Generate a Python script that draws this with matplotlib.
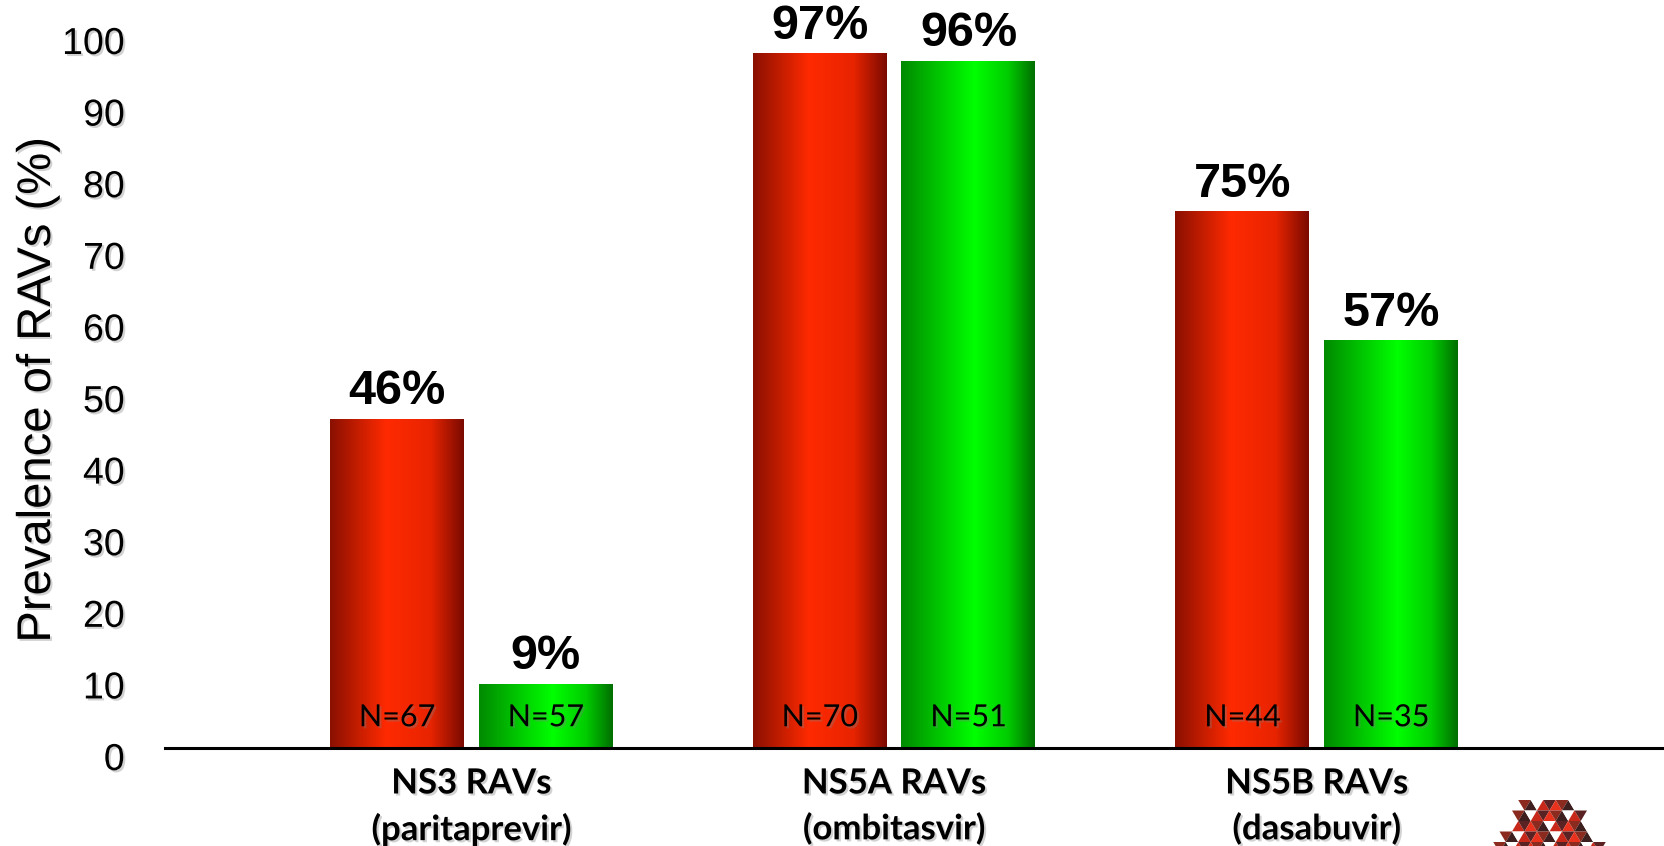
import matplotlib
matplotlib.use("Agg")
import matplotlib.pyplot as plt
import matplotlib.patheffects as pe
import matplotlib.transforms as mtransforms
from matplotlib.colors import LinearSegmentedColormap
from matplotlib.patches import Polygon
import numpy as np

# Data
categories = ["NS3 RAVs\n(paritaprevir)", "NS5A RAVs\n(ombitasvir)", "NS5B RAVs\n(dasabuvir)"]
group_a = [46, 97, 75]          # red bars
group_b = [9, 96, 57]           # green bars
n_a = [67, 70, 44]
n_b = [57, 51, 35]
yticks = list(range(0, 101, 10))

red_cmap = LinearSegmentedColormap.from_list(
    "red_cyl", [(0.0, "#8a1000"), (0.42, "#ff2a00"), (0.75, "#e82400"), (1.0, "#7a0a00")])
green_cmap = LinearSegmentedColormap.from_list(
    "green_cyl", [(0.0, "#008a00"), (0.55, "#00ff00"), (0.8, "#00cc00"), (1.0, "#006e00")])

shadow = [pe.SimplePatchShadow(offset=(1.5, -1.5), shadow_rgbFace="gray", alpha=0.35), pe.Normal()]

fig = plt.figure(figsize=(16.65, 8.46), dpi=100, facecolor="white")
ax = fig.add_axes([0.0991, 0.1158, 0.9009, 0.8464])

x = np.arange(len(categories))
width = 0.317
offset = 0.176

bars_a = ax.bar(x - offset, group_a, width, color="#ff2a00", zorder=2)
bars_b = ax.bar(x + offset, group_b, width, color="#00ff00", zorder=2)

# horizontal gradient fill clipped to each bar
grad = np.linspace(0, 1, 256).reshape(1, -1)
for bars, cmap in ((bars_a, red_cmap), (bars_b, green_cmap)):
    for b in bars:
        x0, y0 = b.get_x(), b.get_y()
        im = ax.imshow(grad, cmap=cmap, aspect="auto", zorder=3,
                       extent=[x0, x0 + b.get_width(), y0, y0 + b.get_height()])
        im.set_clip_path(b)

# value and sample size labels
for bars, vals, ns in ((bars_a, group_a, n_a), (bars_b, group_b, n_b)):
    for b, v, n in zip(bars, vals, ns):
        cx = b.get_x() + b.get_width() / 2
        ax.annotate(f"{v}%", (cx, v), xytext=(0, 3), textcoords="offset points",
                    ha="center", va="bottom", fontsize=35, fontweight="bold",
                    family="Liberation Sans", zorder=5, annotation_clip=False)
        ax.text(cx, 4.3, f"N={n}", ha="center", va="center", fontsize=22,
                family="Lato", zorder=5, path_effects=shadow)

ax.set_xlim(-0.725, 2.824)
ax.set_ylim(0, 100)
ax.set_yticks(yticks)
ax.set_yticklabels([str(t) for t in yticks], fontsize=27, family="Liberation Sans")
ax.tick_params(axis="y", length=0, pad=29)
shift = mtransforms.ScaledTranslation(0, -0.08, fig.dpi_scale_trans)
for lbl in ax.get_yticklabels():
    lbl.set_transform(lbl.get_transform() + shift)
    lbl.set_path_effects(shadow)

ax.set_xticks(x)
ax.set_xticklabels(categories, fontsize=25, fontweight="bold", family="Lato",
                   linespacing=1.5)
ax.tick_params(axis="x", length=0, pad=14)
for lbl in ax.get_xticklabels():
    lbl.set_path_effects(shadow)

ax.set_ylabel("Prevalence of RAVs (%)", fontsize=34, family="Liberation Sans",
              path_effects=shadow)
ax.yaxis.set_label_coords(-0.07, 0.5)

for s in ("top", "right", "left"):
    ax.spines[s].set_visible(False)
ax.spines["bottom"].set_linewidth(2.2)
ax.spines["bottom"].set_zorder(4)

# small triangle mosaic badge in the lower right corner
pal = ["#e8321e", "#8b2a1e", "#3d1f1f", "#ffffff", "#c8281a", "#5a2222"]
tw, th = 12.5, 10.5
ox, oy = 1549.5, 846 - 800
k = 0
for r in range(5):
    n_tri = 9 + 2 * r
    left = ox - (n_tri + 1) * tw / 4
    top = oy - r * th
    for i in range(n_tri):
        xl = left + i * tw / 2
        if i % 2 == 0:
            pts = [(xl, top), (xl + tw, top), (xl + tw / 2, top - th)]
        else:
            pts = [(xl, top - th), (xl + tw, top - th), (xl + tw / 2, top)]
        k += 1
        fig.patches.append(Polygon(pts, closed=True, transform=None,
                                   facecolor=pal[(k * 7 + r * 3) % len(pal)],
                                   edgecolor="none", figure=fig))

fig.savefig("out.png", dpi=100, facecolor="white")
